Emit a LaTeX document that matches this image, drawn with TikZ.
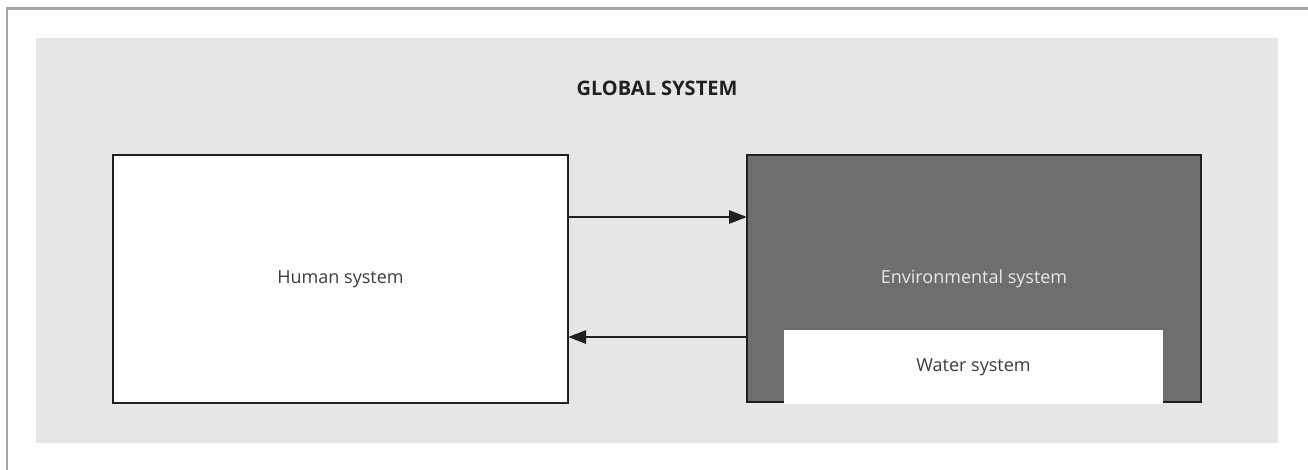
\documentclass[tikz,border=0pt]{standalone}
\usepackage{fontspec}
\setmainfont{Open Sans}
\usepackage{tikz}
\usetikzlibrary{positioning, arrows.meta}
\definecolor{panelgray}{HTML}{E5E6E7}
\definecolor{framegray}{HTML}{A7A7A7}
\definecolor{envgray}{HTML}{6D6E70}
\definecolor{inkdark}{HTML}{231F20}
\definecolor{textgray}{HTML}{3C3C3C}
\definecolor{textlight}{HTML}{E8E8E8}

\begin{document}
\begin{tikzpicture}[
        x=1pt, y=-1pt,
        system/.style={rectangle, draw=inkdark, line width=1.5pt, inner sep=0pt, outer sep=0pt, font=\fontsize{18}{21}\selectfont},
        human/.style={system, fill=white, text=textgray, minimum width=455pt, minimum height=248pt},
        envir/.style={system, fill=envgray, text=textlight, minimum width=454pt, minimum height=247pt},
        water/.style={rectangle, fill=white, text=textgray, inner sep=0pt, minimum width=379pt, minimum height=74pt, font=\fontsize{18}{21}\selectfont},
        flow/.style={draw=inkdark, line width=2.8pt, -{Triangle[length=18pt, width=13pt]}},
    ]
    \useasboundingbox (0,0) rectangle (1308,470);
    % Frame and background
    \draw[framegray, line width=2.5pt] (1308,8.5) -- (7,8.5) -- (7,470);
    \fill[panelgray] (36,38) rectangle (1278,443);
    \node[font=\fontsize{20}{23}\selectfont\bfseries, text=inkdark] (title) at (657,88) {GLOBAL SYSTEM};

    % Systems
    \node[human] (hum) at (340.5,279) {Human system};
    \node[envir] (env) at (974,278.5) {Environmental system};
    \node[water] (wat) at (973.5,367) {Water system};

    % Exchanges
    \draw[flow] ([yshift=62pt]hum.east) -- ([yshift=61.5pt]env.west);
    \draw[flow] ([yshift=-58.5pt]env.west) -- ([yshift=-58pt]hum.east);
\end{tikzpicture}
\end{document}
